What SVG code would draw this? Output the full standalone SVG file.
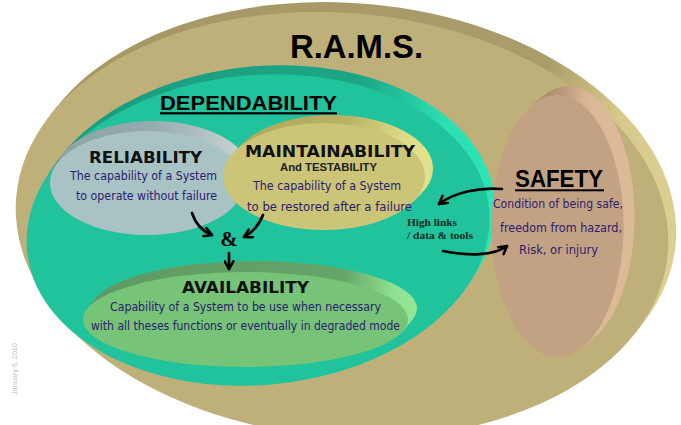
<svg xmlns="http://www.w3.org/2000/svg" width="681" height="425" viewBox="0 0 681 425">
  <style>
    .hand { font-family: "DejaVu Sans", "Noto Sans", sans-serif; }
    .head { font-size: 15px; font-weight: bold; fill: #111; }
    .body { font-size: 11.5px; fill: #2a2070; }
    .title { font-family: "Liberation Sans", Arial, sans-serif; font-weight: bold; fill: #000; }
    .note { font-family: "Liberation Serif", "Times New Roman", serif; font-weight: bold; font-size: 10.5px; fill: #0d2a1e; }
    .link { fill: none; stroke: #000; stroke-width: 2.7; stroke-linecap: round; }
  </style>
  <defs>
    <marker id="vhead" viewBox="0 0 10 10" refX="8.5" refY="5" markerWidth="11" markerHeight="11" markerUnits="userSpaceOnUse" orient="auto">
      <path d="M1.5,1 L8.5,5 L1.5,9" fill="none" stroke="#000" stroke-width="2.3" stroke-linecap="round" stroke-linejoin="round"/>
    </marker>
    <linearGradient id="rimTan" gradientUnits="userSpaceOnUse" x1="-300" y1="0" x2="330" y2="0">
      <stop offset="0" stop-color="#a59765"/>
      <stop offset="0.78" stop-color="#ab9d6a"/>
      <stop offset="0.9" stop-color="#d6c98b"/>
      <stop offset="1" stop-color="#dccf91"/>
    </linearGradient>
    <linearGradient id="rimTeal" gradientUnits="userSpaceOnUse" x1="-210" y1="0" x2="240" y2="0">
      <stop offset="0" stop-color="#1b9c7e"/>
      <stop offset="0.72" stop-color="#1ca585"/>
      <stop offset="0.9" stop-color="#2bdfb2"/>
      <stop offset="1" stop-color="#2ee4b6"/>
    </linearGradient>
    <linearGradient id="rimGrey" gradientUnits="userSpaceOnUse" x1="-95" y1="0" x2="100" y2="0">
      <stop offset="0" stop-color="#8da3a6"/>
      <stop offset="0.5" stop-color="#95aaad"/>
      <stop offset="1" stop-color="#cad5d5"/>
    </linearGradient>
    <linearGradient id="rimYellow" gradientUnits="userSpaceOnUse" x1="-95" y1="0" x2="100" y2="0">
      <stop offset="0" stop-color="#b1aa5d"/>
      <stop offset="0.6" stop-color="#b8b163"/>
      <stop offset="0.9" stop-color="#dedb86"/>
      <stop offset="1" stop-color="#e3e08c"/>
    </linearGradient>
    <linearGradient id="rimGreen" gradientUnits="userSpaceOnUse" x1="-160" y1="0" x2="170" y2="0">
      <stop offset="0" stop-color="#5e9a63"/>
      <stop offset="0.78" stop-color="#64a568"/>
      <stop offset="0.93" stop-color="#8fdf90"/>
      <stop offset="1" stop-color="#96e696"/>
    </linearGradient>
    <linearGradient id="rimSafety" gradientUnits="userSpaceOnUse" x1="-25" y1="0" x2="40" y2="0">
      <stop offset="0" stop-color="#a68568"/>
      <stop offset="0.45" stop-color="#b8967a"/>
      <stop offset="0.8" stop-color="#d8b694"/>
      <stop offset="1" stop-color="#dcba98"/>
    </linearGradient>
  </defs>

  <rect width="681" height="425" fill="#fff"/>

  <!-- R.A.M.S. outer disc -->
  <g id="node-rams">
    <g transform="translate(342 225) rotate(5)">
      <ellipse cx="7" cy="-10.5" rx="327" ry="212" fill="url(#rimTan)"/>
      <polygon points="300.2,84.1 -300.2,-84.1 -293.2,-94.6 307.2,73.6" fill="url(#rimTan)"/>
      <ellipse cx="0" cy="0" rx="327" ry="212" fill="#bfb079"/>
    </g>
    <text class="title" x="290" y="58" font-size="34" textLength="133" lengthAdjust="spacingAndGlyphs">R.A.M.S.</text>
  </g>

  <!-- Dependability disc -->
  <g id="node-dependability">
    <g transform="translate(258 230) rotate(-5)">
      <ellipse cx="6.8" cy="-8.5" rx="232" ry="155" fill="url(#rimTeal)"/>
      <polygon points="204.6,73 -204.6,-73 -197.8,-81.5 211.4,64.5" fill="url(#rimTeal)"/>
      <ellipse cx="0" cy="0" rx="232" ry="155" fill="#20c39c"/>
    </g>
    <text class="title" x="160" y="110" font-size="21" textLength="177" lengthAdjust="spacingAndGlyphs">DEPENDABILITY</text>
    <rect x="160" y="112.2" width="177" height="2.2" fill="#000"/>
  </g>

  <!-- Safety disc -->
  <g id="node-safety">
    <g transform="translate(557.5 226)">
      <ellipse cx="11" cy="-9" rx="66" ry="131" fill="url(#rimSafety)"/>
      <polygon points="25.1,121.2 -25.1,-121.2 -14.1,-130.2 36.1,112.2" fill="url(#rimSafety)"/>
      <ellipse cx="0" cy="0" rx="66" ry="131" fill="#c3a283"/>
    </g>
    <text class="title" x="515" y="187" font-size="24" textLength="88" lengthAdjust="spacingAndGlyphs">SAFETY</text>
    <rect x="515" y="189.3" width="89" height="2" fill="#000"/>
    <text class="hand body" x="493" y="208" textLength="130" lengthAdjust="spacingAndGlyphs">Condition of being safe,</text>
    <text class="hand body" x="500" y="232" textLength="122" lengthAdjust="spacingAndGlyphs">freedom from hazard,</text>
    <text class="hand body" x="519" y="254" textLength="79" lengthAdjust="spacingAndGlyphs">Risk, or injury</text>
  </g>

  <!-- Reliability disc -->
  <g id="node-reliability">
    <g transform="translate(147 183)">
      <ellipse cx="6" cy="-10" rx="97" ry="52" fill="url(#rimGrey)"/>
      <polygon points="92.3,15.9 -92.3,-15.9 -86.3,-25.9 98.3,5.9" fill="url(#rimGrey)"/>
      <ellipse cx="0" cy="0" rx="97" ry="52" fill="#a9c3c4"/>
    </g>
    <text class="hand head" x="89" y="163" textLength="113" lengthAdjust="spacingAndGlyphs">RELIABILITY</text>
    <text class="hand body" x="70" y="179.5" textLength="147" lengthAdjust="spacingAndGlyphs">The capability of a System</text>
    <text class="hand body" x="76" y="200" textLength="141" lengthAdjust="spacingAndGlyphs">to operate without failure</text>
  </g>

  <!-- Maintainability disc -->
  <g id="node-maintainability">
    <g transform="translate(324 176.5)">
      <ellipse cx="8" cy="-8" rx="101" ry="53.5" fill="url(#rimYellow)"/>
      <polygon points="89.3,25 -89.3,-25 -81.3,-33 97.3,17" fill="url(#rimYellow)"/>
      <ellipse cx="0" cy="0" rx="101" ry="53.5" fill="#ccc476"/>
    </g>
    <text class="hand head" x="245" y="157" font-size="16" textLength="170" lengthAdjust="spacingAndGlyphs">MAINTAINABILITY</text>
    <text class="title" x="280" y="171" font-size="11" textLength="97" lengthAdjust="spacingAndGlyphs" style="fill:#222">And TESTABILITY</text>
    <text class="hand body" x="253" y="190" textLength="148" lengthAdjust="spacingAndGlyphs">The capability of a System</text>
    <text class="hand body" x="247" y="211" textLength="165" lengthAdjust="spacingAndGlyphs">to be restored after a failure</text>
  </g>

  <!-- Availability disc -->
  <g id="node-availability">
    <g transform="translate(245.5 319.5)">
      <ellipse cx="9" cy="-11" rx="162.5" ry="47.5" fill="url(#rimGreen)"/>
      <polygon points="158,11.05 -158,-11.05 -149,-22.05 167,0.05" fill="url(#rimGreen)"/>
      <ellipse cx="0" cy="0" rx="162.5" ry="47.5" fill="#77c377"/>
    </g>
    <text class="hand head" x="182" y="293" font-size="16" textLength="127" lengthAdjust="spacingAndGlyphs">AVAILABILITY</text>
    <text class="hand body" x="110" y="311" textLength="271" lengthAdjust="spacingAndGlyphs">Capability of a System to be use when necessary</text>
    <text class="hand body" x="91" y="330" textLength="309" lengthAdjust="spacingAndGlyphs">with all theses functions or eventually in degraded mode</text>
  </g>

  <!-- Links between the blocks -->
  <g id="connectors">
    <path class="link" d="M192,213 Q197,229 212,235" marker-end="url(#vhead)"/>
    <path class="link" d="M263,215 Q257,230 244,237" marker-end="url(#vhead)"/>
    <text x="229" y="246" text-anchor="middle" font-family="'Liberation Serif', 'Times New Roman', serif" font-weight="bold" font-size="21" fill="#000">&amp;</text>
    <path class="link" d="M229,253 L229,269" marker-end="url(#vhead)"/>
    <path class="link" d="M502,189 C480,187 455,192 439,204" marker-end="url(#vhead)"/>
    <path class="link" d="M443,251 C468,256 494,256 507,246" marker-end="url(#vhead)"/>
    <text class="note" x="407" y="226" textLength="50" lengthAdjust="spacingAndGlyphs">High links</text>
    <text class="note" x="407" y="239" textLength="66" lengthAdjust="spacingAndGlyphs">/ data &amp; tools</text>
  </g>

  <text x="17" y="395" transform="rotate(-90 17 395)" font-family="'Liberation Sans', Arial, sans-serif" font-size="7.5" fill="#c2c2c2" textLength="52" lengthAdjust="spacingAndGlyphs">January 6, 2010</text>
</svg>
